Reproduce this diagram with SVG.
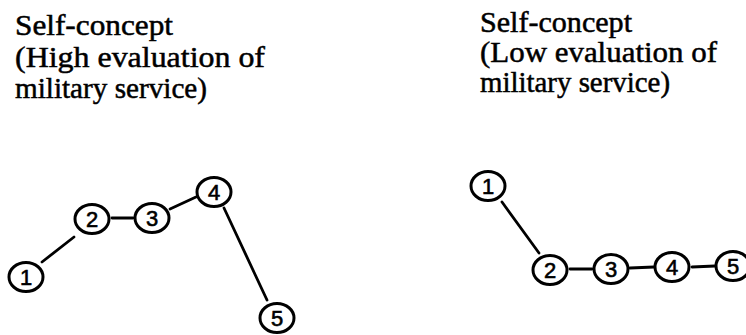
<svg xmlns="http://www.w3.org/2000/svg" width="746" height="335" viewBox="0 0 746 335">
<defs>
<style>
.t{font-family:"Liberation Serif","Times New Roman",serif;font-size:29px;fill:#000;stroke:#000;stroke-width:0.5}
.n ellipse{fill:#fff;stroke:#000;stroke-width:3}
.n text{font-family:"Liberation Sans",Arial,sans-serif;font-size:22px;fill:#000;stroke:#000;stroke-width:0.6;text-anchor:middle}
.c line{stroke:#000;stroke-width:2.8;stroke-linecap:round}
</style>
</defs>
<rect width="746" height="335" fill="#fff"/>
<g id="title-left">
<text class="t" x="15" y="35" textLength="158" lengthAdjust="spacingAndGlyphs">Self-concept</text>
<text class="t" x="15" y="67" textLength="250" lengthAdjust="spacingAndGlyphs">(High evaluation of</text>
<text class="t" x="15" y="98" textLength="192" lengthAdjust="spacingAndGlyphs">military service)</text>
</g>
<g id="title-right">
<text class="t" x="480" y="32" textLength="152" lengthAdjust="spacingAndGlyphs">Self-concept</text>
<text class="t" x="480" y="62" textLength="237" lengthAdjust="spacingAndGlyphs">(Low evaluation of</text>
<text class="t" x="480" y="92" textLength="190" lengthAdjust="spacingAndGlyphs">military service)</text>
</g>
<g id="connectors" class="c">
<line x1="42" y1="262" x2="74" y2="237"/>
<line x1="112" y1="218" x2="133" y2="218"/>
<line x1="170" y1="209" x2="196" y2="197"/>
<line x1="224" y1="208" x2="267" y2="300"/>
<line x1="502" y1="202" x2="539" y2="253"/>
<line x1="570" y1="269" x2="592" y2="269"/>
<line x1="630" y1="268" x2="654" y2="267"/>
<line x1="692" y1="267" x2="715" y2="266"/>
</g>
<g id="L1" class="n"><ellipse cx="26" cy="277" rx="17" ry="14.5"/><text x="26" y="285">1</text></g>
<g id="L2" class="n"><ellipse cx="92" cy="219" rx="17" ry="14.5"/><text x="92" y="227">2</text></g>
<g id="L3" class="n"><ellipse cx="152" cy="218" rx="17" ry="14.5"/><text x="152" y="226">3</text></g>
<g id="L4" class="n"><ellipse cx="214" cy="192" rx="17" ry="14.5"/><text x="214" y="200">4</text></g>
<g id="L5" class="n"><ellipse cx="277" cy="318" rx="17" ry="14.5"/><text x="277" y="326">5</text></g>
<g id="R1" class="n"><ellipse cx="488" cy="186" rx="17" ry="14.5"/><text x="488" y="194">1</text></g>
<g id="R2" class="n"><ellipse cx="550" cy="270" rx="17" ry="14.5"/><text x="550" y="278">2</text></g>
<g id="R3" class="n"><ellipse cx="611" cy="269" rx="17" ry="14.5"/><text x="611" y="277">3</text></g>
<g id="R4" class="n"><ellipse cx="672" cy="267" rx="17" ry="14.5"/><text x="672" y="275">4</text></g>
<g id="R5" class="n"><ellipse cx="733" cy="266" rx="17" ry="14.5"/><text x="733" y="274">5</text></g>
</svg>
